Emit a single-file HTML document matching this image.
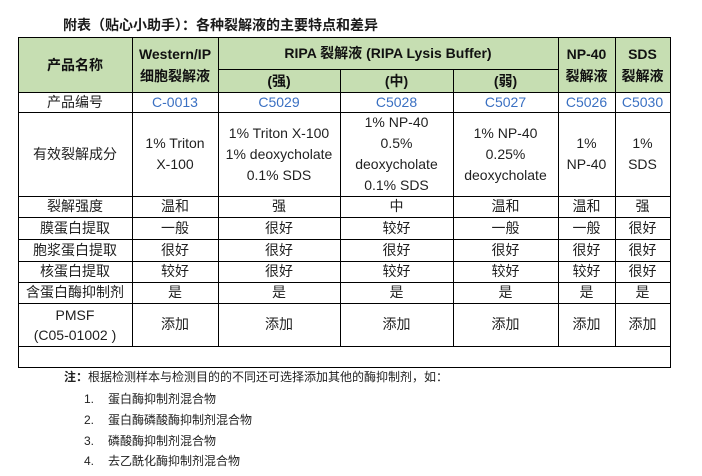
<!DOCTYPE html>
<html>
<head>
<meta charset="utf-8">
<style>
  html, body { margin:0; padding:0; background:#fff; }
  body { width:702px; height:476px; position:relative; overflow:hidden;
         font-family:"Liberation Sans","Noto Sans CJK SC",sans-serif; color:#1f1f1f; }
  .title { position:absolute; left:63px; top:15px; font-size:14px; font-weight:bold; line-height:20px; white-space:nowrap; color:#1a1a1a; }
  .c { position:absolute; display:flex; align-items:center; justify-content:center; text-align:center;
       font-size:14px; line-height:21px; white-space:nowrap; }
  .h { font-weight:bold; line-height:22px; color:#111; }
  .b { color:#3a70c2; }
  .hl { position:absolute; height:1px; background:#000; }
  .vl { position:absolute; width:1px; background:#000; }
  .note { position:absolute; font-size:12px; line-height:16px; white-space:nowrap; color:#222; }
</style>
</head>
<body>
<div class="title">附表（贴心小助手）：各种裂解液的主要特点和差异</div>

<!-- header background -->
<div style="position:absolute;left:18px;top:37px;width:652px;height:55px;background:#c6deb2;"></div>

<!-- horizontal lines -->
<div class="hl" style="left:18px;top:37px;width:653px;"></div>
<div class="hl" style="left:218px;top:69px;width:340px;"></div>
<div class="hl" style="left:18px;top:92px;width:653px;"></div>
<div class="hl" style="left:18px;top:112px;width:653px;"></div>
<div class="hl" style="left:18px;top:196px;width:653px;"></div>
<div class="hl" style="left:18px;top:217px;width:653px;"></div>
<div class="hl" style="left:18px;top:239px;width:653px;"></div>
<div class="hl" style="left:18px;top:261px;width:653px;"></div>
<div class="hl" style="left:18px;top:282px;width:653px;"></div>
<div class="hl" style="left:18px;top:303px;width:653px;"></div>
<div class="hl" style="left:18px;top:346px;width:653px;"></div>
<div class="hl" style="left:18px;top:367px;width:653px;"></div>

<!-- vertical lines -->
<div class="vl" style="left:18px;top:37px;height:331px;"></div>
<div class="vl" style="left:670px;top:37px;height:331px;"></div>
<div class="vl" style="left:132px;top:37px;height:309px;"></div>
<div class="vl" style="left:218px;top:37px;height:309px;"></div>
<div class="vl" style="left:558px;top:37px;height:309px;"></div>
<div class="vl" style="left:615px;top:37px;height:309px;"></div>
<div class="vl" style="left:340px;top:69px;height:277px;"></div>
<div class="vl" style="left:453px;top:69px;height:277px;"></div>

<!-- header cells -->
<div class="c h" style="left:18px;top:37px;width:114px;height:55px;">产品名称</div>
<div class="c h" style="left:132px;top:37px;width:86px;height:55px;">Western/IP<br>细胞裂解液</div>
<div class="c h" style="left:218px;top:37px;width:340px;height:32px;">RIPA 裂解液 (RIPA Lysis Buffer)</div>
<div class="c h" style="left:218px;top:69px;width:122px;height:23px;">(强)</div>
<div class="c h" style="left:340px;top:69px;width:113px;height:23px;">(中)</div>
<div class="c h" style="left:453px;top:69px;width:105px;height:23px;">(弱)</div>
<div class="c h" style="left:558px;top:37px;width:57px;height:55px;">NP-40<br>裂解液</div>
<div class="c h" style="left:615px;top:37px;width:55px;height:55px;">SDS<br>裂解液</div>

<!-- row: 产品编号 -->
<div class="c" style="left:18px;top:92px;width:114px;height:20px;">产品编号</div>
<div class="c b" style="left:132px;top:92px;width:86px;height:20px;">C-0013</div>
<div class="c b" style="left:218px;top:92px;width:122px;height:20px;">C5029</div>
<div class="c b" style="left:340px;top:92px;width:113px;height:20px;">C5028</div>
<div class="c b" style="left:453px;top:92px;width:105px;height:20px;">C5027</div>
<div class="c b" style="left:558px;top:92px;width:57px;height:20px;">C5026</div>
<div class="c b" style="left:615px;top:92px;width:55px;height:20px;">C5030</div>

<!-- row: 有效裂解成分 -->
<div class="c" style="left:18px;top:112px;width:114px;height:84px;">有效裂解成分</div>
<div class="c" style="left:132px;top:112px;width:86px;height:84px;">1% Triton<br>X-100</div>
<div class="c" style="left:218px;top:112px;width:122px;height:84px;">1% Triton X-100<br>1% deoxycholate<br>0.1% SDS</div>
<div class="c" style="left:340px;top:112px;width:113px;height:84px;">1% NP-40<br>0.5%<br>deoxycholate<br>0.1% SDS</div>
<div class="c" style="left:453px;top:112px;width:105px;height:84px;">1% NP-40<br>0.25%<br>deoxycholate</div>
<div class="c" style="left:558px;top:112px;width:57px;height:84px;">1%<br>NP-40</div>
<div class="c" style="left:615px;top:112px;width:55px;height:84px;">1%<br>SDS</div>

<!-- row: 裂解强度 -->
<div class="c" style="left:18px;top:196px;width:114px;height:21px;">裂解强度</div>
<div class="c" style="left:132px;top:196px;width:86px;height:21px;">温和</div>
<div class="c" style="left:218px;top:196px;width:122px;height:21px;">强</div>
<div class="c" style="left:340px;top:196px;width:113px;height:21px;">中</div>
<div class="c" style="left:453px;top:196px;width:105px;height:21px;">温和</div>
<div class="c" style="left:558px;top:196px;width:57px;height:21px;">温和</div>
<div class="c" style="left:615px;top:196px;width:55px;height:21px;">强</div>

<!-- row: 膜蛋白提取 -->
<div class="c" style="left:18px;top:217px;width:114px;height:22px;">膜蛋白提取</div>
<div class="c" style="left:132px;top:217px;width:86px;height:22px;">一般</div>
<div class="c" style="left:218px;top:217px;width:122px;height:22px;">很好</div>
<div class="c" style="left:340px;top:217px;width:113px;height:22px;">较好</div>
<div class="c" style="left:453px;top:217px;width:105px;height:22px;">一般</div>
<div class="c" style="left:558px;top:217px;width:57px;height:22px;">一般</div>
<div class="c" style="left:615px;top:217px;width:55px;height:22px;">很好</div>

<!-- row: 胞浆蛋白提取 -->
<div class="c" style="left:18px;top:239px;width:114px;height:22px;">胞浆蛋白提取</div>
<div class="c" style="left:132px;top:239px;width:86px;height:22px;">很好</div>
<div class="c" style="left:218px;top:239px;width:122px;height:22px;">很好</div>
<div class="c" style="left:340px;top:239px;width:113px;height:22px;">很好</div>
<div class="c" style="left:453px;top:239px;width:105px;height:22px;">很好</div>
<div class="c" style="left:558px;top:239px;width:57px;height:22px;">很好</div>
<div class="c" style="left:615px;top:239px;width:55px;height:22px;">很好</div>

<!-- row: 核蛋白提取 -->
<div class="c" style="left:18px;top:261px;width:114px;height:21px;">核蛋白提取</div>
<div class="c" style="left:132px;top:261px;width:86px;height:21px;">较好</div>
<div class="c" style="left:218px;top:261px;width:122px;height:21px;">很好</div>
<div class="c" style="left:340px;top:261px;width:113px;height:21px;">较好</div>
<div class="c" style="left:453px;top:261px;width:105px;height:21px;">较好</div>
<div class="c" style="left:558px;top:261px;width:57px;height:21px;">较好</div>
<div class="c" style="left:615px;top:261px;width:55px;height:21px;">很好</div>

<!-- row: 含蛋白酶抑制剂 -->
<div class="c" style="left:18px;top:282px;width:114px;height:21px;">含蛋白酶抑制剂</div>
<div class="c" style="left:132px;top:282px;width:86px;height:21px;">是</div>
<div class="c" style="left:218px;top:282px;width:122px;height:21px;">是</div>
<div class="c" style="left:340px;top:282px;width:113px;height:21px;">是</div>
<div class="c" style="left:453px;top:282px;width:105px;height:21px;">是</div>
<div class="c" style="left:558px;top:282px;width:57px;height:21px;">是</div>
<div class="c" style="left:615px;top:282px;width:55px;height:21px;">是</div>

<!-- row: PMSF -->
<div class="c" style="left:18px;top:303px;width:114px;height:43px;line-height:20px;">PMSF<br>(C05-01002 )</div>
<div class="c" style="left:132px;top:303px;width:86px;height:43px;">添加</div>
<div class="c" style="left:218px;top:303px;width:122px;height:43px;">添加</div>
<div class="c" style="left:340px;top:303px;width:113px;height:43px;">添加</div>
<div class="c" style="left:453px;top:303px;width:105px;height:43px;">添加</div>
<div class="c" style="left:558px;top:303px;width:57px;height:43px;">添加</div>
<div class="c" style="left:615px;top:303px;width:55px;height:43px;">添加</div>

<!-- notes -->
<div class="note" style="left:64px;top:369px;"><b>注：</b>根据检测样本与检测目的的不同还可选择添加其他的酶抑制剂，如：</div>
<div class="note" style="left:84px;top:391px;">1.</div>
<div class="note" style="left:108px;top:391px;">蛋白酶抑制剂混合物</div>
<div class="note" style="left:84px;top:412px;">2.</div>
<div class="note" style="left:108px;top:412px;">蛋白酶磷酸酶抑制剂混合物</div>
<div class="note" style="left:84px;top:433px;">3.</div>
<div class="note" style="left:108px;top:433px;">磷酸酶抑制剂混合物</div>
<div class="note" style="left:84px;top:453px;">4.</div>
<div class="note" style="left:108px;top:453px;">去乙酰化酶抑制剂混合物</div>
</body>
</html>
